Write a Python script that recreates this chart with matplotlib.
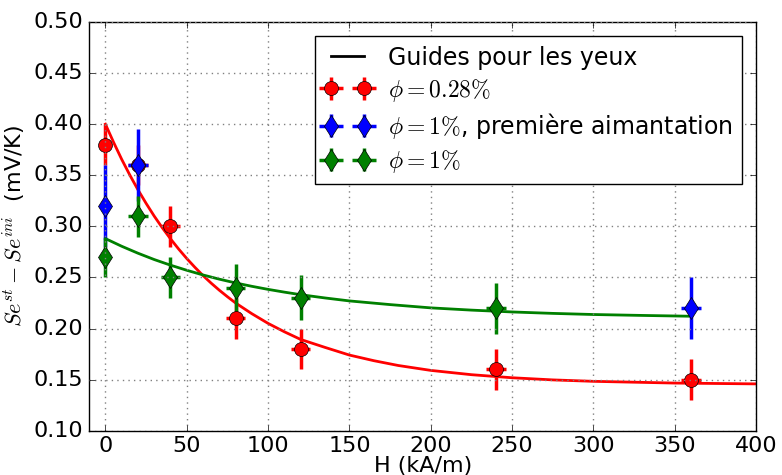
import matplotlib
matplotlib.use('Agg')
import matplotlib.pyplot as plt
from matplotlib.lines import Line2D

plt.style.use('classic')
plt.rcParams['mathtext.fontset'] = 'cm'
plt.rcParams['font.size'] = 16

# measured points
h_red = [0, 20, 40, 80, 120, 240, 360]
s_red = [0.38, 0.36, 0.30, 0.21, 0.18, 0.16, 0.15]
err_red = [0.02, 0.02, 0.02, 0.02, 0.02, 0.02, 0.02]
herr_red = [0, 6, 6, 6, 6, 6, 6]

h_blue = [0, 20, 360]
s_blue = [0.32, 0.36, 0.22]
err_blue = [0.04, 0.035, 0.03]
herr_blue = [0, 6, 6]

h_green = [0, 20, 40, 80, 120, 240]
s_green = [0.27, 0.31, 0.25, 0.24, 0.23, 0.22]
err_green = [0.02, 0.02, 0.02, 0.023, 0.022, 0.025]
herr_green = [0, 6, 6, 6, 6, 6]

# guide curves
guide_red_h = [0, 5, 10, 15, 20, 25, 30, 35, 40, 45, 50, 55, 60, 65, 70, 75, 80, 90, 100,
               110, 120, 135, 150, 165, 180, 200, 225, 250, 275, 300, 350, 400]
guide_red_s = [0.400, 0.3823, 0.3656, 0.3502, 0.3358, 0.3225, 0.310, 0.2985, 0.2878,
               0.2778, 0.2685, 0.2599, 0.2518, 0.2444, 0.2375, 0.2311, 0.225, 0.2145,
               0.205, 0.1968, 0.1893, 0.1815, 0.1740, 0.1685, 0.1638, 0.1590, 0.1548,
               0.1518, 0.1497, 0.1483, 0.1466, 0.1458]
guide_green_h = [0, 10, 20, 30, 40, 50, 60, 70, 80, 90, 100, 110, 120, 135, 150, 175, 200,
                 225, 250, 275, 300, 330, 360]
guide_green_s = [0.288, 0.2805, 0.2737, 0.2675, 0.2620, 0.2570, 0.2524, 0.2483, 0.2446,
                 0.2413, 0.2383, 0.2356, 0.2331, 0.2299, 0.2270, 0.2234, 0.2202, 0.2180,
                 0.2162, 0.2148, 0.2137, 0.2128, 0.2120]

fig = plt.figure(figsize=(7.82, 4.75), dpi=100, facecolor='white')
ax = fig.add_axes([0.114, 0.0933, 0.853, 0.8604])

ax.plot(guide_red_h, guide_red_s, color='r', lw=2)
ax.plot(guide_green_h, guide_green_s, color='g', lw=2)

e1 = ax.errorbar(h_red, s_red, yerr=err_red, xerr=herr_red, fmt='o', color='r',
                 mfc='r', mec='k', ms=10, elinewidth=2.5, capsize=0)
e2 = ax.errorbar(h_blue, s_blue, yerr=err_blue, xerr=herr_blue, fmt='d', color='b',
                 mfc='b', mec='k', ms=11.5, elinewidth=2.5, capsize=0)
e3 = ax.errorbar(h_green, s_green, yerr=err_green, xerr=herr_green, fmt='d', color='g',
                 mfc='g', mec='k', ms=11.5, elinewidth=2.5, capsize=0)

guide = Line2D([], [], color='k', lw=2)
ax.legend([guide, e1, e2, e3],
          ['Guides pour les yeux', r'$\phi=0.28\%$',
           r'$\phi=1\%$, première aimantation', r'$\phi=1\%$'],
          loc='upper right', numpoints=2, fontsize=17, labelspacing=0.3,
          handletextpad=0.7, borderaxespad=0.6)

ax.set_xlim(-10, 400)
ax.set_ylim(0.10, 0.50)
ax.set_xticks(range(0, 401, 50))
ax.set_yticks([0.10, 0.15, 0.20, 0.25, 0.30, 0.35, 0.40, 0.45, 0.50])
ax.grid(True, color='gray', linestyle=':', linewidth=1)
ax.set_xlabel('H (kA/m)', fontsize=16, labelpad=0)
ax.set_ylabel(r'$Se^{st}-Se^{ini}$  (mV/K)', fontsize=16)

fig.savefig('out.png', dpi=100, facecolor='white')
